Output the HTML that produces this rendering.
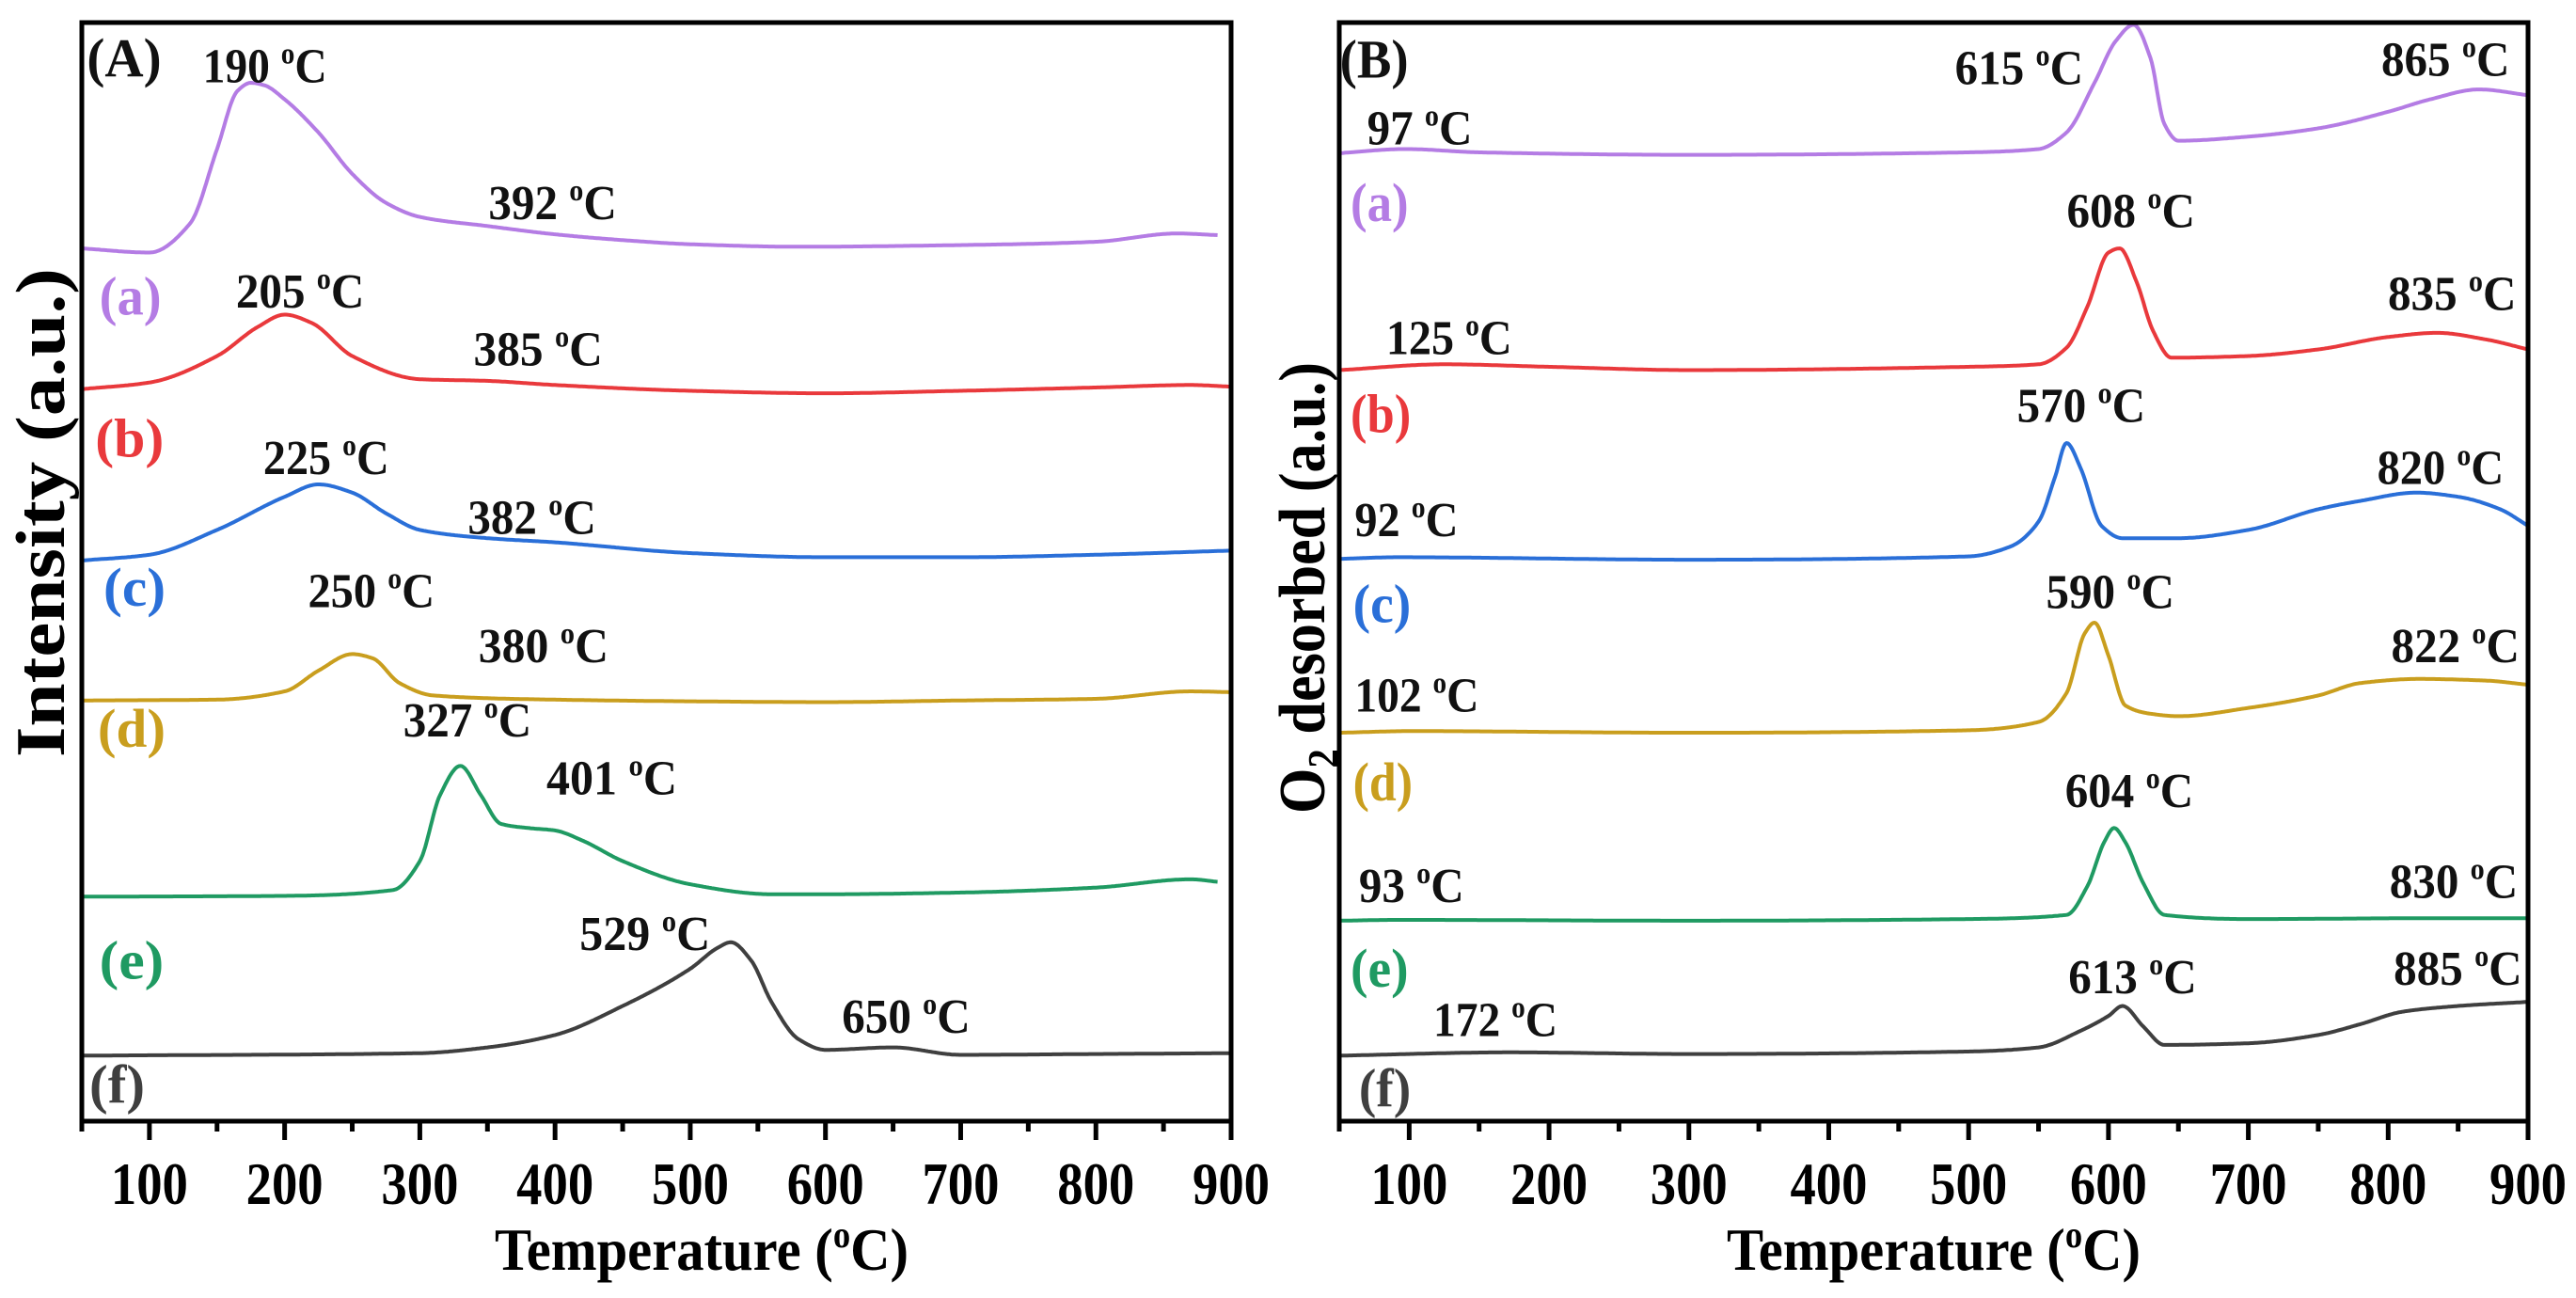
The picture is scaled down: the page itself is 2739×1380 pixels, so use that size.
<!DOCTYPE html>
<html><head><meta charset="utf-8"><style>
html,body{margin:0;padding:0;background:#fff;}
svg{display:block;}
text{font-family:"Liberation Serif",serif;font-weight:bold;}
</style></head><body>
<svg id="chart" width="2739" height="1380" viewBox="0 0 2739 1380"></svg>
<script>
// ===== Data (temperature °C, intensity a.u. incl. stacking offset) =====
const tempA_purple=[50,100,130,150,165,175,185,200,225,250,275,300,350,400,450,500,580,700,800,860,890];
const valA_purple=[1057,1052,1087,1177,1247,1257,1254,1237,1197,1147,1112,1095,1084,1074,1067,1062,1059,1061,1065,1075,1073];
const tempA_red=[50,100,150,180,200,220,250,300,350,400,500,600,700,800,870,900];
const valA_red=[887,895,927,962,977,967,927,899,897,892,885,882,885,889,892,890];
const tempA_blue=[50,100,150,200,225,250,275,300,350,400,500,600,700,800,900];
const valA_blue=[680,687,717,757,772,762,737,717,707,702,689,684,684,687,692];
const tempA_gold=[50,150,200,225,250,265,285,310,400,500,600,700,800,870,900];
const valA_gold=[511,512,522,547,567,562,532,517,512,510,509,511,513,522,521];
const tempA_green=[50,200,280,300,315,330,345,360,380,400,420,450,500,560,600,700,800,870,890];
const valA_green=[274,275,282,317,397,432,397,362,357,354,342,317,289,277,277,279,285,295,292];
const tempA_black=[50,300,350,400,450,500,520,530,545,560,580,600,650,700,800,900];
const valA_black=[82,85,92,107,142,187,212,219,197,147,102,89,92,83,84,85];

const tempB_purple=[50,97,150,300,500,550,570,590,605,618,630,640,650,700,750,800,830,865,900];
const valB_purple=[1172,1177,1173,1170,1173,1177,1197,1257,1307,1327,1287,1207,1187,1192,1202,1222,1237,1249,1242];
const tempB_red=[50,125,200,300,500,550,570,585,600,608,620,632,645,700,750,800,835,870,900];
const valB_red=[910,917,914,910,914,917,937,987,1052,1057,1017,957,925,927,935,950,955,947,935];
const tempB_blue=[50,92,300,500,530,550,562,570,580,595,610,650,700,750,780,820,850,880,900];
const valB_blue=[682,684,681,685,697,727,782,822,792,722,707,707,717,742,752,762,757,742,722];
const tempB_gold=[50,102,300,500,550,570,583,590,600,612,630,650,700,750,780,822,870,900];
const valB_gold=[472,474,472,475,485,520,592,605,565,505,495,492,502,517,532,537,535,530];
const tempB_green=[50,93,300,500,570,585,597,604,612,625,640,700,830,900];
const valB_green=[245,246,245,247,252,287,340,357,340,290,252,247,248,248];
const tempB_black=[50,172,300,500,550,580,600,610,625,640,700,750,780,810,850,900];
const valB_black=[82,86,84,87,92,112,130,142,117,95,97,107,120,135,142,147];

const xTicks=[100,200,300,400,500,600,700,800,900];
const minorTicks=[50,150,250,350,450,550,650,750,850];

const NS="http://www.w3.org/2000/svg";
const svg=document.getElementById('chart');
function el(tag,attrs,parent){const e=document.createElementNS(NS,tag);for(const k in attrs)e.setAttribute(k,attrs[k]);(parent||svg).appendChild(e);return e;}

const panels=[
 {id:'a',left:87,right:1309,
  series:[[tempA_purple,valA_purple,'#b47ce4','purple'],[tempA_red,valA_red,'#e9393c','red'],[tempA_blue,valA_blue,'#2a6fd8','blue'],[tempA_gold,valA_gold,'#c99e1e','gold'],[tempA_green,valA_green,'#1f9a62','green'],[tempA_black,valA_black,'#3f3f3f','black']]},
 {id:'b',left:1424,right:2688,
  series:[[tempB_purple,valB_purple,'#b47ce4','purple'],[tempB_red,valB_red,'#e9393c','red'],[tempB_blue,valB_blue,'#2a6fd8','blue'],[tempB_gold,valB_gold,'#c99e1e','gold'],[tempB_green,valB_green,'#1f9a62','green'],[tempB_black,valB_black,'#3f3f3f','black']]}
];
const TOP=24,BOTTOM=1192;
function yScale(v){return (1357-v)/1.136;}

// monotone cubic (Fritsch-Carlson) interpolation
function monotone(xs,ys){
  const n=xs.length,d=[],m=new Array(n);
  for(let i=0;i<n-1;i++)d.push((ys[i+1]-ys[i])/(xs[i+1]-xs[i]));
  m[0]=d[0];m[n-1]=d[n-2];
  for(let i=1;i<n-1;i++){
    if(d[i-1]*d[i]<=0)m[i]=0;
    else{const w1=2*(xs[i+1]-xs[i])+(xs[i]-xs[i-1]),w2=(xs[i+1]-xs[i])+2*(xs[i]-xs[i-1]);m[i]=(w1+w2)/(w1/d[i-1]+w2/d[i]);}
  }
  return function(x){
    let i=0;while(i<n-2&&x>xs[i+1])i++;
    const h=xs[i+1]-xs[i],t=(x-xs[i])/h,t2=t*t,t3=t2*t;
    return (2*t3-3*t2+1)*ys[i]+(t3-2*t2+t)*h*m[i]+(-2*t3+3*t2)*ys[i+1]+(t3-t2)*h*m[i+1];
  };
}

panels.forEach(p=>{
  const xScale=t=>p.left+(t-50)/850*(p.right-p.left);
  const g=el('g',{});
  
  
  p.series.forEach(s=>{
    const f=monotone(s[0],s[1]);
    const t0=s[0][0],t1=s[0][s[0].length-1];
    let d='';
    for(let t=t0;t<=t1+0.001;t+=1){d+=(d?' L':'M')+xScale(t).toFixed(1)+','+yScale(f(t)).toFixed(1);}
    const path=el('path',{d:d,fill:'none',stroke:s[2],'stroke-width':4,'stroke-linejoin':'round'},g);
    
    
  });
  const frame=el('rect',{x:p.left,y:TOP,width:p.right-p.left,height:BOTTOM-TOP,fill:'none',stroke:'#000','stroke-width':5},g);
  
  
  xTicks.forEach(t=>{
    const x=xScale(t);
    const tk=el('line',{x1:x,x2:x,y1:BOTTOM,y2:BOTTOM+20,stroke:'#000','stroke-width':5},g);
    
    
    const lb=el('text',{x:x,y:1280,'font-size':64,'text-anchor':'middle',textLength:82,lengthAdjust:'spacingAndGlyphs'},g);
    lb.textContent=t;
    
    
  });
  minorTicks.forEach(t=>{
    const x=xScale(t);
    const tk=el('line',{x1:x,x2:x,y1:BOTTOM,y2:BOTTOM+11,stroke:'#000','stroke-width':5},g);
    
    
  });
  const cx=(p.left+p.right)/2+(p.id==='a'?48:0);
  const xt=el('text',{x:cx,y:1350,'font-size':64,'text-anchor':'middle',textLength:440,lengthAdjust:'spacingAndGlyphs'},g);
  xt.innerHTML='Temperature (<tspan font-size="40" dy="-24">o</tspan><tspan dy="24">C)</tspan>';
  
  
});

// Y axis titles
const ya=el('text',{x:0,y:0,'font-size':74,'text-anchor':'middle',transform:'translate(68,545) rotate(-90)',textLength:520,lengthAdjust:'spacingAndGlyphs'});
ya.textContent='Intensity (a.u.)';


const yb=el('text',{x:0,y:0,'font-size':70,'text-anchor':'middle',transform:'translate(1408,625) rotate(-90)',textLength:480,lengthAdjust:'spacingAndGlyphs'});
yb.innerHTML='O<tspan font-size="46" dy="14">2</tspan><tspan dy="-14"> desorbed (a.u.)</tspan>';



// Annotations: [panel x offset, left, right, centerY (zoom coords), text, color, kind]
const labels=[
 [0,105,195,70,'(A)','#111','panel'],
 [0,245,395,80,'190','#111','t'],[0,590,745,245,'392','#111','t'],
 [0,120,195,358,'(a)','#b47ce4','s'],[0,285,440,352,'205','#111','t'],[0,572,728,422,'385','#111','t'],
 [0,115,198,530,'(b)','#e9393c','s'],[0,318,470,553,'225','#111','t'],[0,565,720,625,'382','#111','t'],
 [0,125,200,710,'(c)','#2a6fd8','s'],[0,372,525,714,'250','#111','t'],[0,578,735,780,'380','#111','t'],
 [0,118,200,880,'(d)','#c99e1e','s'],[0,487,642,870,'327','#111','t'],[0,660,818,940,'401','#111','t'],
 [0,120,198,1160,'(e)','#1f9a62','s'],[0,700,858,1128,'529','#111','t'],[0,1017,1172,1228,'650','#111','t'],
 [0,108,175,1310,'(f)','#3f3f3f','s'],
 [1370,62,145,72,'(B)','#111','panel'],[1370,805,960,82,'615','#111','t'],[1370,1320,1475,72,'865','#111','t'],[1370,95,222,155,'97','#111','t'],
 [1370,75,145,245,'(a)','#b47ce4','s'],[1370,940,1095,255,'608','#111','t'],[1370,1328,1483,355,'835','#111','t'],[1370,118,270,408,'125','#111','t'],
 [1370,75,148,500,'(b)','#e9393c','s'],[1370,880,1035,490,'570','#111','t'],[1370,1315,1468,565,'820','#111','t'],[1370,80,205,628,'92','#111','t'],
 [1370,78,148,730,'(c)','#2a6fd8','s'],[1370,915,1070,715,'590','#111','t'],[1370,1332,1487,780,'822','#111','t'],[1370,80,230,840,'102','#111','t'],
 [1370,78,150,945,'(d)','#c99e1e','s'],[1370,938,1093,955,'604','#111','t'],[1370,1330,1485,1065,'830','#111','t'],[1370,85,212,1070,'93','#111','t'],
 [1370,75,145,1170,'(e)','#1f9a62','s'],[1370,942,1097,1180,'613','#111','t'],[1370,1335,1490,1170,'885','#111','t'],[1370,175,325,1232,'172','#111','t'],
 [1370,85,148,1315,'(f)','#3f3f3f','s']
];
labels.forEach(l=>{
  const x=l[0]+l[1]/1.136,w=(l[2]-l[1])/1.136,yc=l[3]/1.136;
  const fs=l[6]==='t'?52:58;
  const t=el('text',{x:x,y:yc+fs*0.33,'font-size':fs,fill:l[5],textLength:w,lengthAdjust:'spacingAndGlyphs'});
  if(l[6]==='t'){
    t.innerHTML=l[4]+' <tspan font-size="32" dy="-20">o</tspan><tspan dy="20">C</tspan>';
  } else t.textContent=l[4];
  
  
});
</script>
</body></html>
